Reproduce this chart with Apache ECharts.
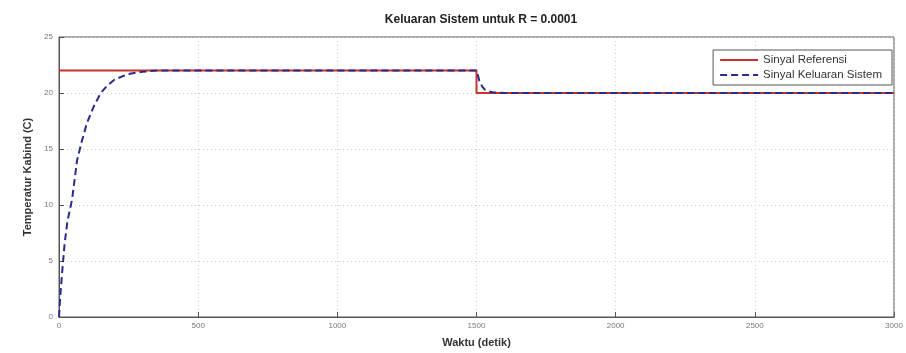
<!DOCTYPE html>
<html>
<head>
<meta charset="utf-8">
<script src="https://cdn.jsdelivr.net/npm/echarts@6/dist/echarts.min.js"></script>
<style>
html,body{margin:0;padding:0;background:#fff;}
#chart{width:906px;height:353px;}
</style>
</head>
<body>
<div id="chart"></div>
<script>
var titleText = 'Keluaran Sistem untuk R = 0.0001';
var xName = 'Waktu (detik)';
var yName = 'Temperatur Kabind (C)';
var xTicks = [0, 500, 1000, 1500, 2000, 2500, 3000];
var yTicks = [0, 5, 10, 15, 20, 25];

var refTime = [0, 1500, 1500, 3000];
var refValue = [22, 22, 20, 20];

var outTime = [0, 5, 10, 20, 30, 47, 65, 80, 100, 125, 150, 175, 200, 250, 300, 350, 400, 1500, 1505, 1510, 1520, 1530, 1545, 1560, 1600, 3000];
var outValue = [0, 2.0, 3.6, 6.5, 8.5, 10.5, 14.0, 15.5, 17.3, 18.8, 20.0, 20.7, 21.2, 21.7, 21.9, 22.0, 22.0, 22.0, 21.6, 21.1, 20.6, 20.3, 20.15, 20.05, 20.0, 20.0];

function pairs(a, b){ return a.map(function(v,i){ return [v, b[i]]; }); }

var chart = echarts.init(document.getElementById('chart'));
var font = 'Liberation Sans, Arial, sans-serif';
chart.setOption({
  backgroundColor: '#ffffff',
  animation: false,
  title: {
    text: titleText, left: 476, top: 9, textAlign: 'center',
    textStyle: {fontFamily: font, fontSize: 12, fontWeight: 'bold', color: '#222'}
  },
  grid: {left: 59, right: 12, top: 37, bottom: 33, show: true, borderColor: '#555', borderWidth: 1},
  legend: {
    right: 14, top: 50, orient: 'vertical', itemGap: 3,
    backgroundColor: '#fff', borderColor: '#555', borderWidth: 1, padding: [4, 10, 4, 6],
    itemWidth: 38, itemHeight: 10,
    itemStyle: {opacity: 0},
    textStyle: {fontFamily: font, fontSize: 11.5, color: '#333'},
    data: ['Sinyal Referensi', 'Sinyal Keluaran Sistem']
  },
  xAxis: {
    type: 'value', min: xTicks[0], max: xTicks[xTicks.length-1], interval: 500,
    name: xName, nameLocation: 'middle', nameGap: 20,
    nameTextStyle: {fontFamily: font, fontSize: 11, fontWeight: 'bold', color: '#333'},
    axisLine: {lineStyle: {color: '#555'}},
    axisTick: {inside: true, length: 5, lineStyle: {color: '#555'}},
    axisLabel: {fontFamily: font, fontSize: 8, color: '#777', margin: 5, formatter: function(v){ return String(v); }},
    splitLine: {show: true, lineStyle: {color: '#cfcfcf', type: [1, 3]}}
  },
  yAxis: {
    type: 'value', min: yTicks[0], max: yTicks[yTicks.length-1], interval: 5,
    name: yName, nameLocation: 'middle', nameGap: 25,
    nameTextStyle: {fontFamily: font, fontSize: 11, fontWeight: 'bold', color: '#333'},
    axisLine: {show: true, lineStyle: {color: '#555'}},
    axisTick: {show: true, inside: true, length: 5, lineStyle: {color: '#555'}},
    axisLabel: {fontFamily: font, fontSize: 8, color: '#777', margin: 6},
    splitLine: {show: true, lineStyle: {color: '#cfcfcf', type: [1, 3]}}
  },
  series: [
    {
      name: 'Sinyal Referensi', type: 'line', showSymbol: false, symbol: 'none',
      data: pairs(refTime, refValue),
      lineStyle: {color: '#c8322a', width: 2},
      itemStyle: {color: '#c8322a'}
    },
    {
      name: 'Sinyal Keluaran Sistem', type: 'line', showSymbol: false, symbol: 'none',
      data: pairs(outTime, outValue),
      lineStyle: {color: '#2a2a8c', width: 2, type: [7, 4]},
      itemStyle: {color: '#2a2a8c'}
    }
  ]
});
</script>
</body>
</html>
